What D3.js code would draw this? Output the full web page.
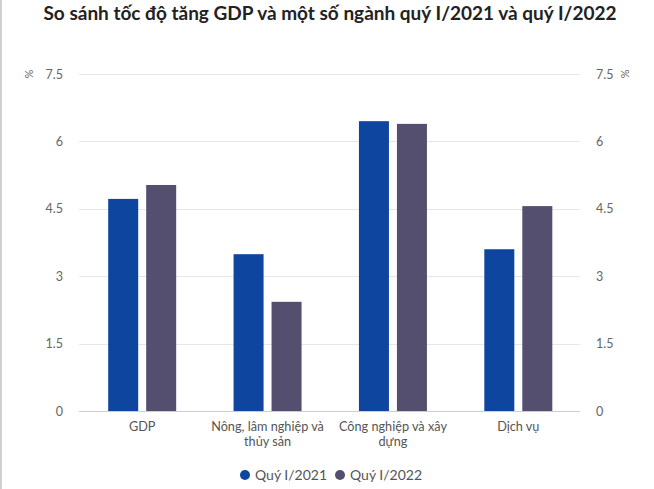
<!DOCTYPE html>
<html><head><meta charset="utf-8">
<script src="https://cdn.jsdelivr.net/npm/d3@7"></script>
<style>body{margin:0;background:#fff}svg{display:block}</style>
</head><body>
<svg id="c" width="654" height="489"></svg>
<script>
const categories = [["GDP"], ["Nông, lâm nghiệp và", "thủy sản"], ["Công nghiệp và xây", "dựng"], ["Dịch vụ"]];
const seriesNames = ["Quý I/2021", "Quý I/2022"];
const q2021 = [4.72, 3.49, 6.45, 3.6];
const q2022 = [5.03, 2.43, 6.39, 4.56];
const ticks = [0, 1.5, 3, 4.5, 6, 7.5];
const colors = ["#0e459e", "#544f6f"];

const svg = d3.select("#c");
const font = "Lato, 'Open Sans', sans-serif";
svg.append("line").attr("x1",1).attr("x2",1).attr("y1",0).attr("y2",489).attr("stroke","#d0d0d0").attr("stroke-width",2);
svg.append("text").attr("x",330).attr("y",20).attr("text-anchor","middle")
  .attr("font-family",font).attr("font-weight",700).attr("font-size",19).attr("fill","#222")
  .text("So sánh tốc độ tăng GDP và một số ngành quý I/2021 và quý I/2022");

const x0 = d3.scaleBand().domain(d3.range(categories.length)).range([79.5,581]).paddingInner(0).paddingOuter(0);
const y = d3.scaleLinear().domain([0,7.5]).range([411,74]);
const x1 = d3.scaleBand().domain([0,1]).range([0,68]).paddingInner(8/38);

const yAxisL = svg.append("g").attr("transform","translate(79,0)")
  .call(d3.axisLeft(y).tickValues(ticks).tickSize(0).tickPadding(16).tickFormat(d3.format("")));
const yAxisR = svg.append("g").attr("transform","translate(580,0)")
  .call(d3.axisRight(y).tickValues(ticks).tickSize(0).tickPadding(16).tickFormat(d3.format("")));
[yAxisL,yAxisR].forEach(g=>{g.select(".domain").remove();
  g.selectAll("text").attr("font-family",font).attr("font-size",12.5).attr("fill","#666");});

svg.append("g").selectAll("line").data(ticks).join("line")
  .attr("x1",79).attr("x2",580).attr("y1",d=>Math.round(y(d))+0.5).attr("y2",d=>Math.round(y(d))+0.5)
  .attr("stroke",d=>d===0?"#c8cdd8":"#e6e6e6").attr("stroke-width",1);

svg.append("text").attr("transform","translate(29,74) rotate(-90)").attr("text-anchor","middle").attr("dy","0.35em")
  .attr("font-family",font).attr("font-size",11).attr("fill","#666").text("%");
svg.append("text").attr("transform","translate(625,74) rotate(90)").attr("text-anchor","middle").attr("dy","0.35em")
  .attr("font-family",font).attr("font-size",11).attr("fill","#666").text("%");

const data = categories.map((c,i)=>[q2021[i], q2022[i]]);
const groups = svg.append("g").selectAll("g").data(data).join("g")
  .attr("transform",(d,i)=>`translate(${x0(i)+(x0.bandwidth()-68)/2},0)`);
groups.selectAll("rect").data(d=>d).join("rect")
  .attr("x",(d,j)=>x1(j)).attr("width",x1.bandwidth())
  .attr("y",d=>y(d)).attr("height",d=>y(0)-y(d)).attr("fill",(d,j)=>colors[j]);

const xl = svg.append("g").selectAll("text").data(categories).join("text")
  .attr("x",(d,i)=>x0(i)+x0.bandwidth()/2).attr("y",431).attr("text-anchor","middle")
  .attr("font-family",font).attr("font-size",12.7).attr("fill","#555");
xl.selectAll("tspan").data(d=>d).join("tspan")
  .attr("x",function(){return this.parentNode.getAttribute("x");}).attr("dy",(d,k)=>k?15:0).text(d=>d);

const legX = [245, 340];
const leg = svg.append("g").selectAll("g").data(seriesNames).join("g")
  .attr("transform",(d,i)=>`translate(${legX[i]},475)`);
leg.append("circle").attr("r",5).attr("fill",(d,i)=>colors[i]);
leg.append("text").attr("x",10).attr("dy","0.35em").attr("font-family",font).attr("font-size",14).attr("fill","#555").text(d=>d);
</script>
</body></html>
